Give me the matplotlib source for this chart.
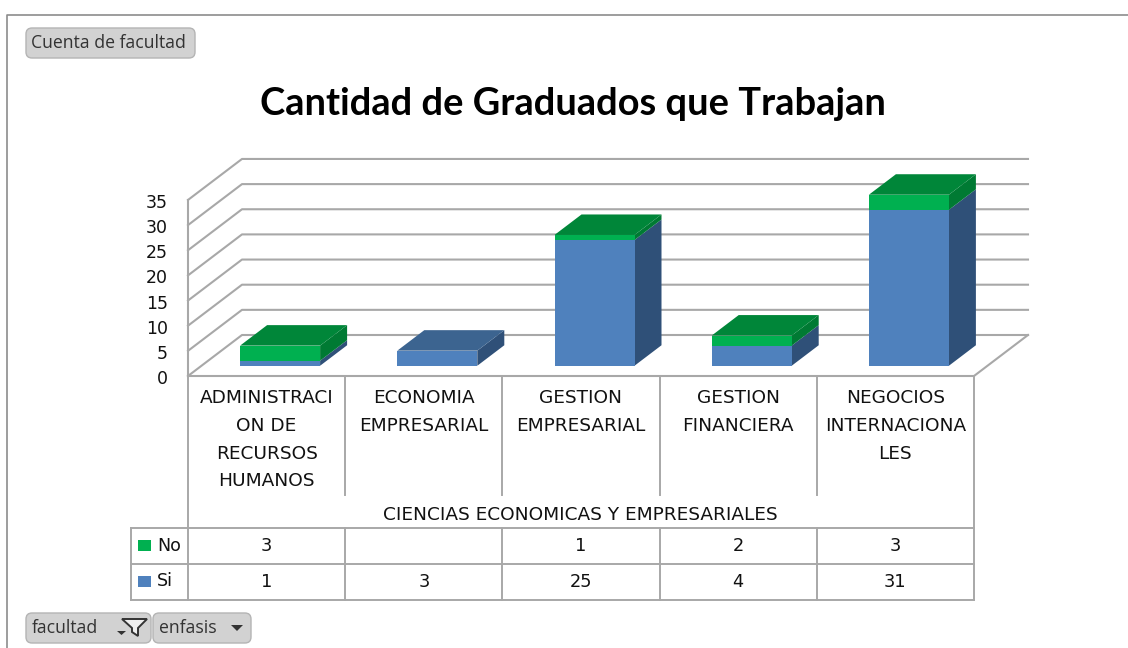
import matplotlib
matplotlib.use('Agg')
import matplotlib.pyplot as plt
from matplotlib.patches import FancyBboxPatch, Polygon, Rectangle

# data
categories = ['ADMINISTRACI\nON DE\nRECURSOS\nHUMANOS', 'ECONOMIA\nEMPRESARIAL', 'GESTION\nEMPRESARIAL',
              'GESTION\nFINANCIERA', 'NEGOCIOS\nINTERNACIONA\nLES']
group_label = 'CIENCIAS ECONOMICAS Y EMPRESARIALES'
si_values = [1, 3, 25, 4, 31]
no_values = [3, 0, 1, 2, 3]
y_ticks = [0, 5, 10, 15, 20, 25, 30, 35]

# plot area in pixels
left, right, base = 188, 974, 376
unit = 5.03
dx, dy = 54, 41
bar_w = 80

BLUE, BLUE_TOP, BLUE_SIDE = '#4f81bd', '#3c6490', '#2f5078'
GREEN, GREEN_TOP, GREEN_SIDE = '#00b050', '#008639', '#007a33'
GRID = '#a8a8a8'
TXT = '#111111'
FONT = 'DejaVu Sans'

fig = plt.figure(figsize=(11.28, 6.48), dpi=100)
ax = fig.add_axes([0, 0, 1, 1])
ax.set_xlim(0, 1128)
ax.set_ylim(648, 0)
ax.axis('off')

cat_w = (right - left) / len(categories)


def y_of(v):
    return base - v * unit


def box(x0, x1, v0, v1, front, top, side):
    # one stacked block, sitting in the middle half of the floor depth
    y0 = y_of(v0) - dy / 4
    y1 = y_of(v1) - dy / 4
    ddx, ddy = dx / 2, dy / 2
    ax.add_patch(Polygon([(x1, y0), (x1 + ddx, y0 - ddy), (x1 + ddx, y1 - ddy), (x1, y1)], color=side, lw=0, zorder=3))
    if top:
        ax.add_patch(Polygon([(x0, y1), (x1, y1), (x1 + ddx, y1 - ddy), (x0 + ddx, y1 - ddy)], color=top, lw=0, zorder=3))
    ax.add_patch(Rectangle((x0, y1), x1 - x0, y0 - y1, color=front, lw=0, zorder=3))


def button(x0, y0, x1, y1, label, tx):
    ax.add_patch(FancyBboxPatch((x0 + 4, y0 + 4), x1 - x0 - 8, y1 - y0 - 8, boxstyle='round,pad=4,rounding_size=6',
                                fc='#d2d2d2', ec='#b4b4b4', lw=1))
    ax.text(tx, (y0 + y1) / 2, label, fontsize=12.7, family='Open Sans', color='#333333', ha='left', va='center')


# outer frame
ax.plot([1128, 7, 7], [15, 15, 648], color='#8c8c8c', lw=1.2)

# buttons
button(26, 28, 195, 58, 'Cuenta de facultad', 31)
button(26, 613, 151, 643, 'facultad', 32)
button(153, 613, 251, 643, 'enfasis', 159)
ax.add_patch(Polygon([(117, 631), (126, 631), (121.5, 635)], color='#333333', lw=0))
ax.add_patch(Polygon([(122, 619), (147, 619), (138, 628), (138, 636), (132, 632), (132, 628)], fc='#eeeeee', ec='#333333', lw=1.4))
ax.add_patch(Polygon([(231, 625), (243, 625), (237, 631)], color='#333333', lw=0))

ax.text(573, 104, 'Cantidad de Graduados que Trabajan', fontsize=27.4, family='Lato', fontweight='bold',
        color='black', ha='center', va='center')

# walls and gridlines
for v in y_ticks:
    y = y_of(v)
    ax.plot([left, left + dx, right + dx], [y, y - dy, y - dy], color=GRID, lw=1.5, zorder=1)
    ax.text(168, y + 3, str(v), fontsize=12.5, family=FONT, color=TXT, ha='right', va='center')
ax.plot([left, left], [y_of(0), y_of(y_ticks[-1])], color=GRID, lw=1.5, zorder=1)
ax.plot([right + dx, right, left], [base - dy, base, base], color=GRID, lw=1.5, zorder=1)

# stacked bars
for i in range(len(categories)):
    x0 = left + cat_w * (i + 0.5) + dx / 4 - bar_w / 2
    x1 = x0 + bar_w
    si, no = si_values[i], no_values[i]
    if no > 0:
        box(x0, x1, 0, si, BLUE, None, BLUE_SIDE)
        box(x0, x1, si, si + no, GREEN, GREEN_TOP, GREEN_SIDE)
    else:
        box(x0, x1, 0, si, BLUE, BLUE_TOP, BLUE_SIDE)

# category labels
for i, label in enumerate(categories):
    cx = left + cat_w * (i + 0.5)
    for j, line in enumerate(label.split('\n')):
        ax.text(cx, 398 + j * 27.8, line, fontsize=13.3, family=FONT, color=TXT, ha='center', va='center')
ax.text((left + right) / 2 - 1, 515, group_label, fontsize=13.3, family=FONT, color=TXT, ha='center', va='center')

# data table lines
row_no, row_si, row_end = 528, 564, 600
key_left = 131
for i in range(len(categories) + 1):
    x = left + cat_w * i
    if i == 0 or i == len(categories):
        ax.plot([x, x], [base, row_end], color=GRID, lw=1.4)
    else:
        ax.plot([x, x], [base, 495], color=GRID, lw=1.4)
        ax.plot([x, x], [row_no, row_end], color=GRID, lw=1.4)
for y in [row_no, row_si, row_end]:
    ax.plot([key_left, right], [y, y], color=GRID, lw=1.4)
ax.plot([key_left, key_left], [row_no, row_end], color=GRID, lw=1.4)

# table legend keys and values
ax.add_patch(Rectangle((138, 540), 13, 11, color=GREEN, lw=0))
ax.add_patch(Rectangle((138, 576), 13, 11, color=BLUE, lw=0))
ax.text(157, 546, 'No', fontsize=12.6, family=FONT, color=TXT, ha='left', va='center')
ax.text(157, 581, 'Si', fontsize=12.6, family=FONT, color=TXT, ha='left', va='center')
for i in range(len(categories)):
    cx = left + cat_w * (i + 0.5)
    if no_values[i] > 0:
        ax.text(cx, 546, str(no_values[i]), fontsize=12.8, family=FONT, color=TXT, ha='center', va='center')
    ax.text(cx, 582, str(si_values[i]), fontsize=12.8, family=FONT, color=TXT, ha='center', va='center')

fig.savefig('out.png', dpi=100)
